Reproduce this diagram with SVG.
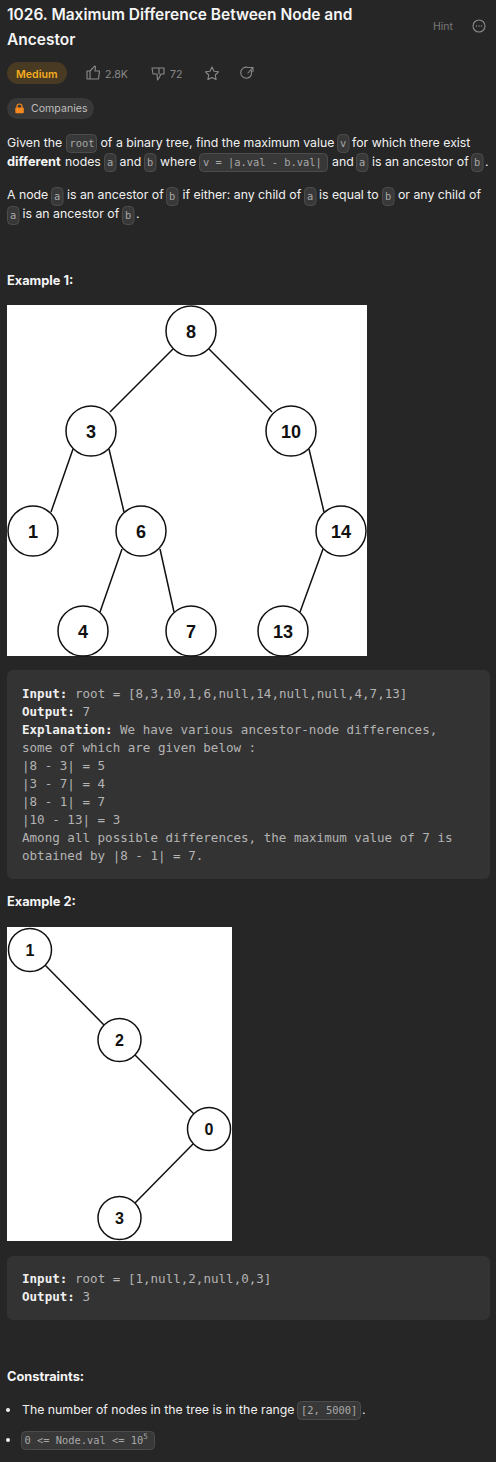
<svg xmlns="http://www.w3.org/2000/svg" width="496" height="1462" viewBox="0 0 496 1462">
<style>
text{font-family:Inter,"Liberation Sans",sans-serif}
.bg{fill:#262626}
.t{font-size:12.3px;fill:#f0f0f0}
.b{font-size:12.8px;font-weight:700;fill:#f5f5f5}
.c{font-family:"DejaVu Sans Mono","Liberation Mono",monospace;font-size:10.4px;fill:#a8a8a8}
.pill{fill:#383838;stroke:#4c4c4c;stroke-width:1}
.block{fill:#333333}
.m{font-family:"DejaVu Sans Mono","Liberation Mono",monospace;font-size:12.55px;font-weight:400;fill:#b4b4b4}
.mb{font-family:"DejaVu Sans Mono","Liberation Mono",monospace;font-size:12.55px;font-weight:700;fill:#f0f0f0}
.edge{stroke:#111;stroke-width:1.5;fill:none}
.node{fill:#fff;stroke:#111;stroke-width:1.5}
.nl{font-family:"Liberation Sans",Arial,sans-serif;font-weight:700;font-size:18px;fill:#111;text-anchor:middle}
.nl2{font-size:16px}
.g{fill:none;stroke:#8a8a8a;stroke-width:1.1;stroke-linejoin:round;stroke-linecap:round}
</style>
<rect class="bg" width="496" height="1462"/>
<g id="header">
<text x="7" y="20" style="font-size:15.5px;font-weight:600;fill:#f5f5f5">1026. Maximum Difference Between Node and</text>
<text x="7" y="45" style="font-size:15.5px;font-weight:600;fill:#f5f5f5">Ancestor</text>
<text x="433" y="30" style="font-size:10.5px;fill:#7a7a7a">Hint</text>
<circle class="g" cx="479" cy="26" r="6"/>
<circle cx="476.5" cy="26" r=".7" fill="#8a8a8a"/><circle cx="479" cy="26" r=".7" fill="#8a8a8a"/><circle cx="481.5" cy="26" r=".7" fill="#8a8a8a"/>
<rect x="7" y="62" width="60" height="22" rx="11" fill="#493a23"/>
<text x="16" y="77.500" style="font-size:10.6px;font-weight:600;fill:#f5ad1f">Medium</text>
<path class="g" d="M87 71h3v8h-3zM90 71l3-3 1.500-2 1 1-.5 4h4.500l-1 8h-8.500"/>
<text x="105" y="77.500" style="font-size:10.6px;fill:#8a8a8a">2.8K</text>
<path class="g" d="M152 68h12v6h-3l-2 4-1.500 2-.5-6h-4zM159 68v6"/>
<text x="170" y="77.500" style="font-size:10.6px;fill:#8a8a8a">72</text>
<path class="g" d="M212 67l2 4.200 4.500.6-3.200 3.200.8 4.500-4.100-2.100-4.100 2.100.8-4.500-3.200-3.200 4.500-.6z"/>
<path class="g" d="M251 70a5.500 5.500 0 1 1-3-2.500M248 73l5-5.500M249 67.500h4v4"/>
<rect x="7" y="98" width="87" height="21" rx="10.500" fill="#383838"/>
<path d="M17 108v-1.500a2.500 2.500 0 0 1 5 0v1.500" fill="none" stroke="#f5891f" stroke-width="1.200"/>
<rect x="15.300" y="107.500" width="8.500" height="5.800" rx="1" fill="#f5891f"/>
<text x="31" y="112" style="font-size:10.6px;fill:#bdbdbd">Companies</text>
</g>
<g id="description">
<text class="t" x="7" y="147">Given the</text>
<rect class="pill" x="66.500" y="134.500" width="30" height="18" rx="4"/><text class="c" x="69.500" y="147">root</text>
<text class="t" x="100.500" y="147">of a binary tree, find the maximum value</text>
<rect class="pill" x="337.500" y="134.500" width="11.500" height="18" rx="4"/><text class="c" x="340" y="147">v</text>
<text class="t" x="352" y="147">for which there exist</text>
<text class="b" x="7" y="166">different</text>
<text class="t" x="65" y="166">nodes</text>
<rect class="pill" x="104.500" y="153.500" width="11.500" height="18" rx="4"/><text class="c" x="107" y="166">a</text>
<text class="t" x="119.500" y="166">and</text>
<rect class="pill" x="144.500" y="153.500" width="11.500" height="18" rx="4"/><text class="c" x="147" y="166">b</text>
<text class="t" x="160" y="166">where</text>
<rect class="pill" x="199.500" y="153.500" width="128" height="18" rx="4"/><text class="c" x="203" y="166">v = |a.val - b.val|</text>
<text class="t" x="332" y="166">and</text>
<rect class="pill" x="356.500" y="153.500" width="11.500" height="18" rx="4"/><text class="c" x="359" y="166">a</text>
<text class="t" x="372" y="166">is an ancestor of</text>
<rect class="pill" x="471.500" y="153.500" width="11.500" height="18" rx="4"/><text class="c" x="474" y="166">b</text>
<text class="t" x="485" y="166">.</text>
<text class="t" x="7" y="199">A node</text>
<rect class="pill" x="51.500" y="187.500" width="11.500" height="18" rx="4"/><text class="c" x="54" y="200">a</text>
<text class="t" x="67" y="199">is an ancestor of</text>
<rect class="pill" x="166.500" y="187.500" width="11.500" height="18" rx="4"/><text class="c" x="169" y="200">b</text>
<text class="t" x="182.500" y="199">if either: any child of</text>
<rect class="pill" x="304.500" y="187.500" width="11.500" height="18" rx="4"/><text class="c" x="307" y="200">a</text>
<text class="t" x="319" y="199">is equal to</text>
<rect class="pill" x="382.500" y="187.500" width="11.500" height="18" rx="4"/><text class="c" x="385" y="200">b</text>
<text class="t" x="398" y="199">or any child of</text>
<rect class="pill" x="7.500" y="206.500" width="11.500" height="18" rx="4"/><text class="c" x="10" y="219">a</text>
<text class="t" x="22.500" y="218">is an ancestor of</text>
<rect class="pill" x="122.500" y="206.500" width="11.500" height="18" rx="4"/><text class="c" x="125" y="219">b</text>
<text class="t" x="136" y="218">.</text>
<text class="b" x="7" y="285">Example 1:</text>
</g>
<rect x="7" y="305" width="360" height="351" fill="#fff"/>
<g id="tree1-connectors">
<path class="edge" d="M173 349L110 412M209 349L272 412M73 449L51 512M109 449L124 512M122 549L100 612M160 549L174 612M309 449L324 512M323 549L300 612"/>
</g>
<g id="t1-8"><circle class="node" cx="191" cy="331" r="25"/><text class="nl" x="191" y="338">8</text></g>
<g id="t1-3"><circle class="node" cx="91" cy="431" r="25"/><text class="nl" x="91" y="438">3</text></g>
<g id="t1-10"><circle class="node" cx="291" cy="431" r="25"/><text class="nl" x="291" y="438">10</text></g>
<g id="t1-1"><circle class="node" cx="33" cy="531" r="25"/><text class="nl" x="33" y="538">1</text></g>
<g id="t1-6"><circle class="node" cx="141" cy="531" r="25"/><text class="nl" x="141" y="538">6</text></g>
<g id="t1-14"><circle class="node" cx="341" cy="531" r="25"/><text class="nl" x="341" y="538">14</text></g>
<g id="t1-4"><circle class="node" cx="83" cy="631" r="25"/><text class="nl" x="83" y="638">4</text></g>
<g id="t1-7"><circle class="node" cx="191" cy="631" r="25"/><text class="nl" x="191" y="638">7</text></g>
<g id="t1-13"><circle class="node" cx="283" cy="631" r="25"/><text class="nl" x="283" y="638">13</text></g>
<g id="example1">
<rect class="block" x="7" y="670" width="483" height="209" rx="6"/>
<text class="mb" x="22" y="698">Input:<tspan class="m" x="75">root = [8,3,10,1,6,null,14,null,null,4,7,13]</tspan></text>
<text class="mb" x="22" y="716">Output:<tspan class="m" x="82.500">7</tspan></text>
<text class="mb" x="22" y="734">Explanation:<tspan class="m" x="120">We have various ancestor-node differences,</tspan></text>
<text class="m" x="22" y="752">some of which are given below :</text>
<text class="m" x="22" y="770">|8 - 3| = 5</text>
<text class="m" x="22" y="788">|3 - 7| = 4</text>
<text class="m" x="22" y="806">|8 - 1| = 7</text>
<text class="m" x="22" y="824">|10 - 13| = 3</text>
<text class="m" x="22" y="842">Among all possible differences, the maximum value of 7 is</text>
<text class="m" x="22" y="860">obtained by |8 - 1| = 7.</text>
<text class="b" x="7" y="906">Example 2:</text>
</g>
<rect x="7" y="927" width="225" height="314" fill="#fff"/>
<g id="tree2-connectors">
<path class="edge" d="M45 965L104 1025M135 1055L194 1114M193 1144L135 1203"/>
</g>
<g id="t2-1"><circle class="node" cx="30" cy="950" r="21.500"/><text class="nl nl2" x="30" y="956">1</text></g>
<g id="t2-2"><circle class="node" cx="119.500" cy="1040" r="21.500"/><text class="nl nl2" x="119.500" y="1046">2</text></g>
<g id="t2-0"><circle class="node" cx="209" cy="1129" r="21.500"/><text class="nl nl2" x="209" y="1135">0</text></g>
<g id="t2-3"><circle class="node" cx="119.500" cy="1218" r="21.500"/><text class="nl nl2" x="119.500" y="1224">3</text></g>
<g id="example2">
<rect class="block" x="7" y="1256" width="483" height="64" rx="6"/>
<text class="mb" x="22" y="1283">Input:<tspan class="m" x="75">root = [1,null,2,null,0,3]</tspan></text>
<text class="mb" x="22" y="1301">Output:<tspan class="m" x="82.500">3</tspan></text>
</g>
<g id="constraints">
<text class="b" x="7" y="1381">Constraints:</text>
<circle cx="8" cy="1410" r="2" fill="#f0f0f0"/>
<text class="t" x="22" y="1414">The number of nodes in the tree is in the range</text>
<rect class="pill" x="297.500" y="1401.500" width="63" height="18" rx="4"/><text class="c" x="301" y="1414">[2, 5000]</text>
<text class="t" x="362" y="1414">.</text>
<circle cx="8" cy="1440" r="2" fill="#f0f0f0"/>
<rect class="pill" x="21.500" y="1431.500" width="133" height="18" rx="4"/>
<text class="c" x="24.500" y="1444">0 &lt;= Node.val &lt;= 10<tspan dy="-5" style="font-size:7.500px">5</tspan></text>
</g>
</svg>
